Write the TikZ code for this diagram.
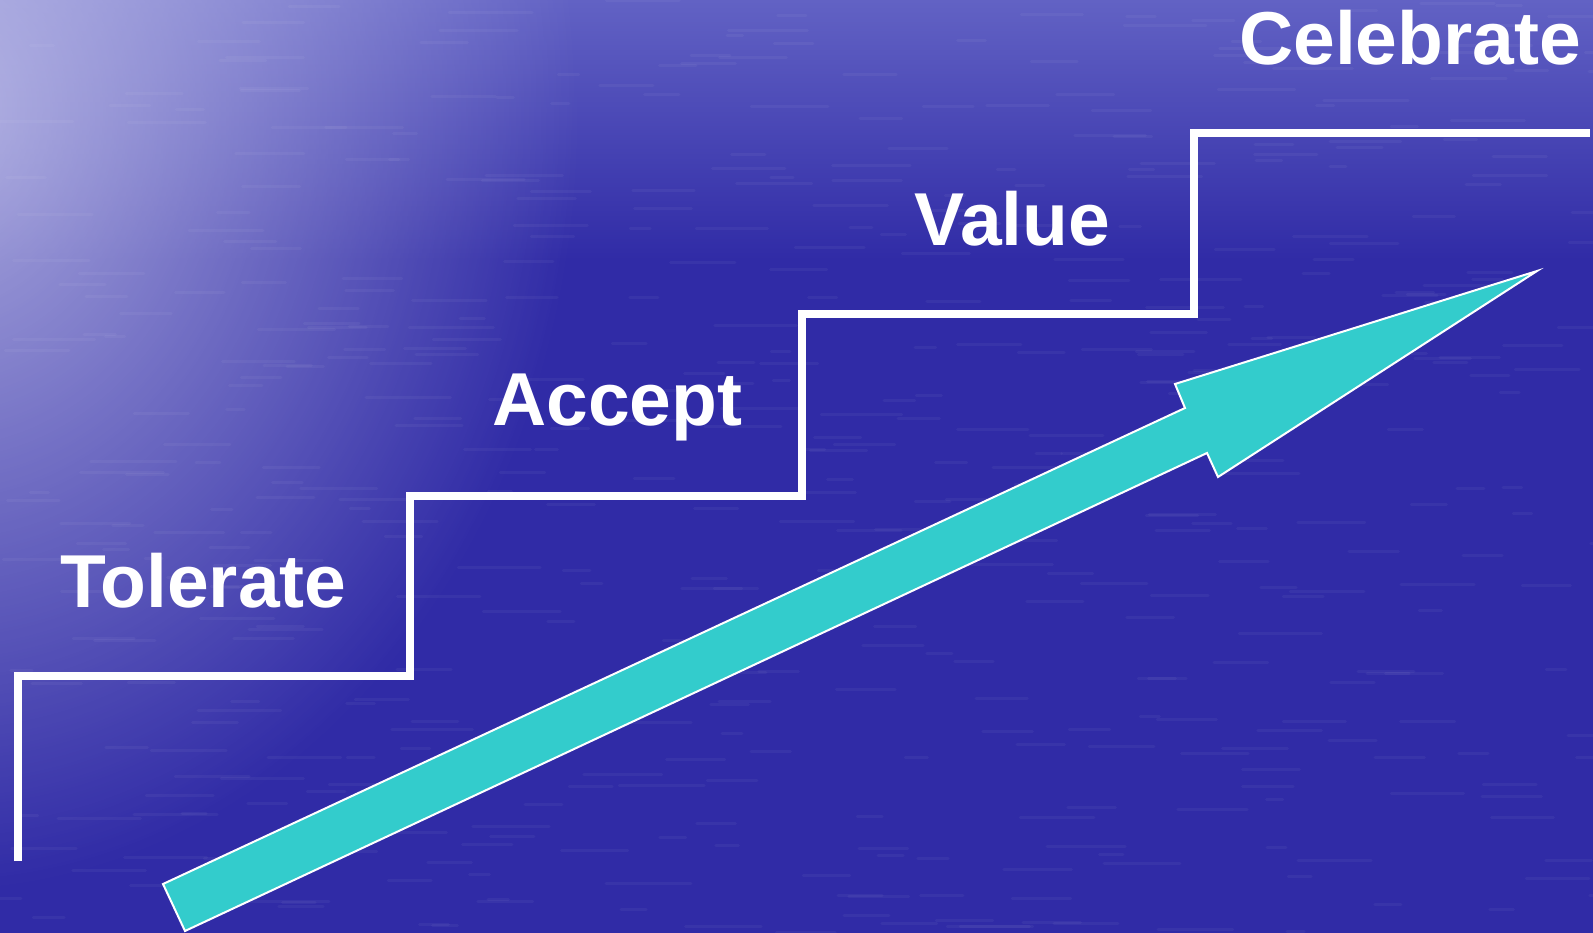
\documentclass[tikz,border=0pt]{standalone}
\usepackage{fontspec}
\setmainfont{Liberation Sans}
\usetikzlibrary{fadings}
\tikzfading[name=glowfade, inner color=transparent!0, outer color=transparent!100]
\definecolor{sea}{RGB}{48,43,166}
\definecolor{seatop}{RGB}{98,98,196}
\definecolor{glowcol}{RGB}{205,205,238}
\definecolor{arrowteal}{RGB}{51,204,204}
\tikzset{
  stair/.style={draw=white,line width=8pt,line join=miter},
  lbl/.style={text=white,font=\bfseries\fontsize{75}{82}\selectfont,anchor=base west,inner sep=0pt},
  bigarrow/.style={fill=arrowteal,draw=white,line width=2pt,line join=miter},
  streak/.style={white,opacity=0.045,line width=3pt,line cap=round}
}
\begin{document}
\begin{tikzpicture}[x=1pt,y=-1pt]
\useasboundingbox (0,0) rectangle (1593,933);
% sea background
\fill[sea] (0,0) rectangle (1593,933);
\shade[top color=seatop, bottom color=sea] (0,0) rectangle (1593,260);
\fill[glowcol, path fading=glowfade, fill opacity=0.8] (-60,110) ellipse (640 and 780);
\pgfmathsetseed{7}
\foreach \i in {1,...,500}{
  \pgfmathsetmacro\xx{rnd*1593}
  \pgfmathsetmacro\yy{rnd*933}
  \pgfmathsetmacro\ll{15+rnd*70}
  \draw[streak] (\xx,\yy) -- ++(\ll,0);
}
% staircase
\draw[stair] (18,861) -- (18,676) -- (410,676) -- (410,495.5) -- (802,495.5)
  -- (802,314.5) -- (1194,314.5) -- (1194,133) -- (1590,133);
% labels
\node[lbl] (tolerate) at (60,607) {Tolerate};
\node[lbl] (accept) at (492,425.5) {Accept};
\node[lbl] (value) at (914,245.5) {Value};
\node[lbl] (celebrate) at (1239,65) {Celebrate};
% arrow
\draw[bigarrow] (163,884) -- (1185,408) -- (1175,384) -- (1537,271)
  -- (1218,477) -- (1207,453) -- (185,931) -- cycle;
\end{tikzpicture}
\end{document}
